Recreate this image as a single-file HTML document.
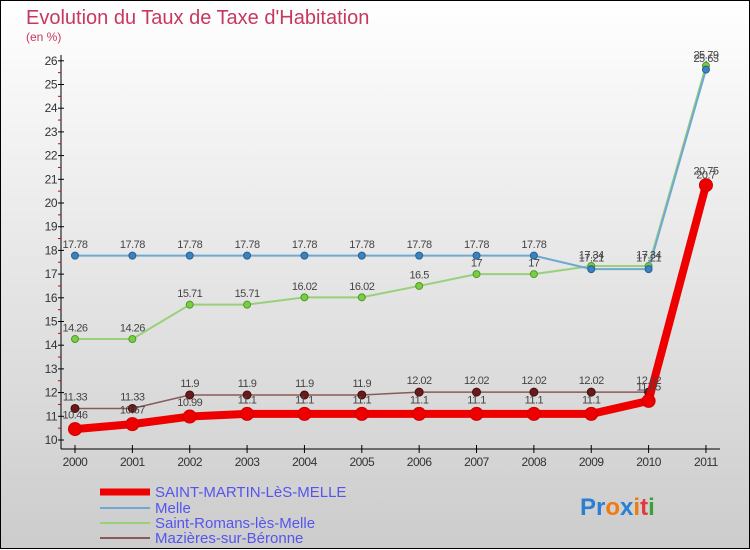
<!DOCTYPE html>
<html><head><meta charset="utf-8"><style>
body{margin:0;width:750px;height:550px;overflow:hidden}
svg{display:block}
</style></head><body>
<svg width="750" height="550" xmlns="http://www.w3.org/2000/svg" font-family="Liberation Sans, sans-serif">
<defs><linearGradient id="bg" x1="0" y1="0" x2="0" y2="1"><stop offset="0" stop-color="#ffffff"/><stop offset="1" stop-color="#cccccc"/></linearGradient></defs>
<rect x="0.5" y="0.5" width="749" height="548" fill="url(#bg)" stroke="#000"/>
<text x="26" y="24" font-size="20" fill="#c8375f">Evolution du Taux de Taxe d'Habitation</text>
<text x="26" y="41" font-size="12" fill="#c8375f">(en %)</text>
<g id="axes"></g><g id="series"></g><g id="labels" font-size="11" fill="#444" text-anchor="middle" letter-spacing="-0.5"></g>
<g font-size="15" fill="#5555ee">
<line x1="100" y1="492" x2="150" y2="492" stroke="#ee0000" stroke-width="7"/>
<text x="155" y="497">SAINT-MARTIN-LèS-MELLE</text>
<line x1="100" y1="508" x2="150" y2="508" stroke="#6fa8d0" stroke-width="2"/>
<text x="155" y="513">Melle</text>
<line x1="100" y1="523" x2="150" y2="523" stroke="#99d07a" stroke-width="2"/>
<text x="155" y="528">Saint-Romans-lès-Melle</text>
<line x1="100" y1="538" x2="150" y2="538" stroke="#8a5a5a" stroke-width="2"/>
<text x="155" y="543">Mazières-sur-Béronne</text>
</g>
<text x="580" y="515" font-size="24" font-weight="bold"><tspan fill="#2a7fd4">Pr</tspan><tspan fill="#f07a10">o</tspan><tspan fill="#2a7fd4">x</tspan><tspan fill="#f07a10">i</tspan><tspan fill="#e03a3a">t</tspan><tspan fill="#3aa03a">i</tspan></text>
</svg>
<script>
const years=[2000,2001,2002,2003,2004,2005,2006,2007,2008,2009,2010,2011];
const saintMartin=[10.46,10.67,10.99,11.1,11.1,11.1,11.1,11.1,11.1,11.1,11.65,20.75];
const melle=[17.78,17.78,17.78,17.78,17.78,17.78,17.78,17.78,17.78,17.21,17.21,25.63];
const saintRomans=[14.26,14.26,15.71,15.71,16.02,16.02,16.5,17,17,17.34,17.34,25.79];
const mazieres=[11.33,11.33,11.9,11.9,11.9,11.9,12.02,12.02,12.02,12.02,12.02,20.7];
const yTicks=[10,11,12,13,14,15,16,17,18,19,20,21,22,23,24,25,26];
const NS='http://www.w3.org/2000/svg';
const X=i=>75+i*57.36, Y=v=>440-(v-10)*23.7;
function mk(t,a,p){const e=document.createElementNS(NS,t);for(const k in a)e.setAttribute(k,a[k]);p.appendChild(e);return e;}
const ax=document.getElementById('axes');
let e=mk('line',{x1:61,y1:55,x2:61,y2:449,stroke:'#000'},ax);

e=mk('line',{x1:61,y1:449,x2:720,y2:449,stroke:'#000'},ax);

yTicks.forEach(v=>{mk('line',{x1:58,y1:Y(v),x2:64,y2:Y(v),stroke:'#000'},ax);
 if(v<26)mk('line',{x1:58,y1:Y(v+0.5),x2:61,y2:Y(v+0.5),stroke:'#d00'},ax);
 const t=mk('text',{x:57,y:Y(v)+4,'font-size':12,fill:'#333','text-anchor':'end','letter-spacing':'-0.5'},ax);t.textContent=v;
 });
years.forEach((y,i)=>{mk('line',{x1:X(i),y1:445,x2:X(i),y2:453,stroke:'#000'},ax);
 const t=mk('text',{x:X(i),y:466,'font-size':12,fill:'#333','text-anchor':'middle','letter-spacing':'-0.5'},ax);t.textContent=y;
 });
const sg=document.getElementById('series'),lg=document.getElementById('labels');
function draw(data,name,color,w,mr,mfill,mstroke){
 const g=mk('g',{},sg);
 const l=mk('polyline',{points:data.map((v,i)=>X(i)+','+Y(v)).join(' '),fill:'none',stroke:color,'stroke-width':w,'stroke-linejoin':'round'},g);
 
 data.forEach((v,i)=>{const c=mk('circle',{cx:X(i),cy:Y(v),r:mr,fill:mfill,stroke:mstroke,'stroke-width':1},g);
  
  const t=mk('text',{x:X(i),y:Y(v)-mr-4},lg);t.textContent=String(v);
  });
}
draw(saintRomans,'saint-romans','#99d07a',2,3.5,'#7ccc44','#4a9a2a');
draw(melle,'melle','#6fa8d0',2,3.5,'#3a82c0','#2a6090');
draw(mazieres,'mazieres','#8a5a5a',1.5,4,'#6a1a1a','#401010');
draw(saintMartin,'saint-martin','#ee0000',8,6.5,'#ee0000','#c00');
</script>
</body></html>
